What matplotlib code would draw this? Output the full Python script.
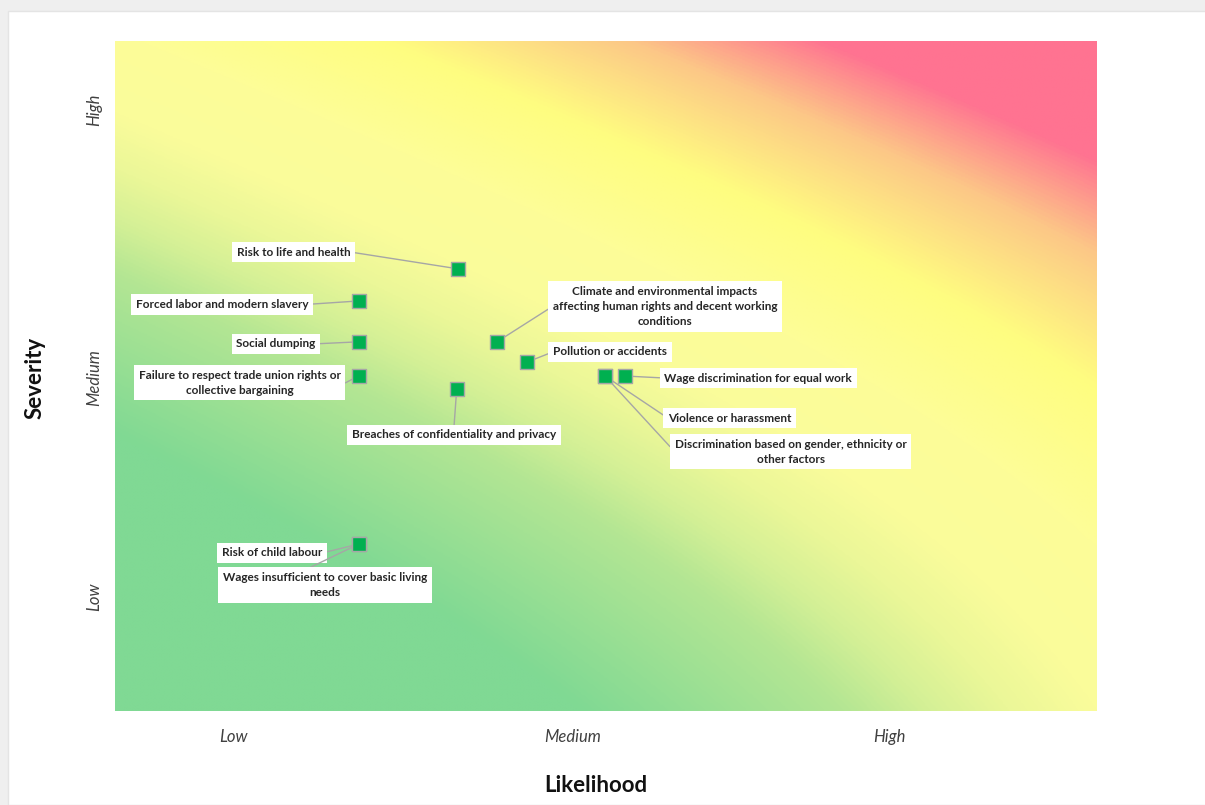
import numpy as np
import matplotlib.pyplot as plt
from matplotlib.colors import LinearSegmentedColormap
from matplotlib.patches import Rectangle

plt.rcParams['font.family'] = ['Lato', 'DejaVu Sans']

# risk items, likelihood (x) and severity (y) on a 0-100 scale
risks = [
    'Risk to life and health',
    'Forced labor and modern slavery',
    'Social dumping',
    'Failure to respect trade union rights or\ncollective bargaining',
    'Breaches of confidentiality and privacy',
    'Climate and environmental impacts\naffecting human rights and decent working\nconditions',
    'Pollution or accidents',
    'Wage discrimination for equal work',
    'Violence or harassment',
    'Discrimination based on gender, ethnicity or\nother factors',
    'Risk of child labour',
    'Wages insufficient to cover basic living\nneeds',
]
likelihood = [34.9, 24.8, 24.8, 24.8, 34.8, 38.9, 42.0, 51.9, 49.9, 49.9, 24.8, 24.8]
severity = [66.0, 61.2, 55.1, 50.0, 48.1, 55.1, 52.1, 50.0, 50.0, 50.0, 24.9, 24.9]

# label box centres and where the leader line leaves the box
label_x = [18.2, 10.9, 16.4, 12.7, 34.5, 56.0, 50.4, 65.5, 62.6, 68.8, 16.0, 21.4]
label_y = [68.5, 60.7, 54.8, 49.0, 41.2, 60.4, 53.6, 49.7, 43.7, 38.7, 23.6, 18.8]
leader_from = [(1, 0.5), (1, 0.5), (1, 0.5), (1, 0.4), (0.5, 1), (0, 0.5),
               (0, 0.5), (0, 0.5), (0, 0.5), (0, 0.5), (1, 0.5), (0.38, 1)]

tick_names = ['Low', 'Medium', 'High']
x_ticks = [12.1, 46.6, 78.9]
y_ticks = [17.0, 49.7, 89.7]

fig = plt.figure(figsize=(12.05, 8.05), dpi=100)
fig.patch.set_facecolor('#efefef')
fig.add_artist(Rectangle((8/1205, 0), 1, 1 - 11/805, transform=fig.transFigure,
                         facecolor='white', edgecolor='#e4e4e4', lw=1, zorder=0))

ax = fig.add_axes([115/1205, 94/805, 982/1205, 670/805])

# background gradient: green bottom-left -> yellow -> pink top-right
xx, yy = np.meshgrid(np.linspace(0, 1, 700), np.linspace(0, 1, 500))
t = xx + 1.2 * yy + 0.226 * yy**2 + 0.25 * xx**2 * (1 - yy)**2
tmax = t.max()
stops = [(0.0, '#80d994'), (0.53, '#80d994'), (0.88, '#b4e693'), (1.0, '#d4f096'),
         (1.12, '#ebf798'), (1.25, '#fafc9b'), (1.45, '#fdfd98'), (1.7, '#fffd80'),
         (1.95, '#fcc887'), (2.15, '#ff7391'), (tmax, '#ff7391')]
cmap = LinearSegmentedColormap.from_list('risk', [(p / tmax, c) for p, c in stops])
ax.imshow(t, cmap=cmap, vmin=0, vmax=tmax, origin='lower', extent=(0, 100, 0, 100),
          aspect='auto', interpolation='bilinear', zorder=0)

for name, x, y, lx, ly, rp in zip(risks, likelihood, severity, label_x, label_y, leader_from):
    ax.annotate(name, xy=(x, y), xytext=(lx, ly), ha='center', va='center',
                multialignment='center', fontsize=8.5, fontweight='bold', color='#262626',
                linespacing=1.45,
                bbox=dict(boxstyle='square,pad=0.4', fc='white', ec='none'),
                arrowprops=dict(arrowstyle='-', color='#a6a6a6', lw=1, shrinkA=0,
                                shrinkB=0, relpos=rp),
                zorder=2)

ax.scatter(likelihood, severity, marker='s', s=90, c='#00b050',
           edgecolors='#a6a6a6', linewidths=1, zorder=3)

ax.set_xlim(0, 100)
ax.set_ylim(0, 100)
ax.set_xticks(x_ticks, tick_names, fontstyle='italic', fontsize=12, color='#404040')
ax.set_yticks(y_ticks, tick_names, fontstyle='italic', fontsize=12, color='#404040',
              rotation=90, va='center')
ax.tick_params(axis='x', length=0, pad=13)
ax.tick_params(axis='y', length=0, pad=9)
for s in ax.spines.values():
    s.set_visible(False)

fig.text(596/1205, 20/805, 'Likelihood', ha='center', va='center',
         fontsize=16, fontweight='bold', color='#111111')
fig.text(35/1205, 1 - 378/805, 'Severity', ha='center', va='center', rotation=90,
         fontsize=16, fontweight='bold', color='#111111')

fig.savefig('out.png', dpi=100, facecolor=fig.get_facecolor())
